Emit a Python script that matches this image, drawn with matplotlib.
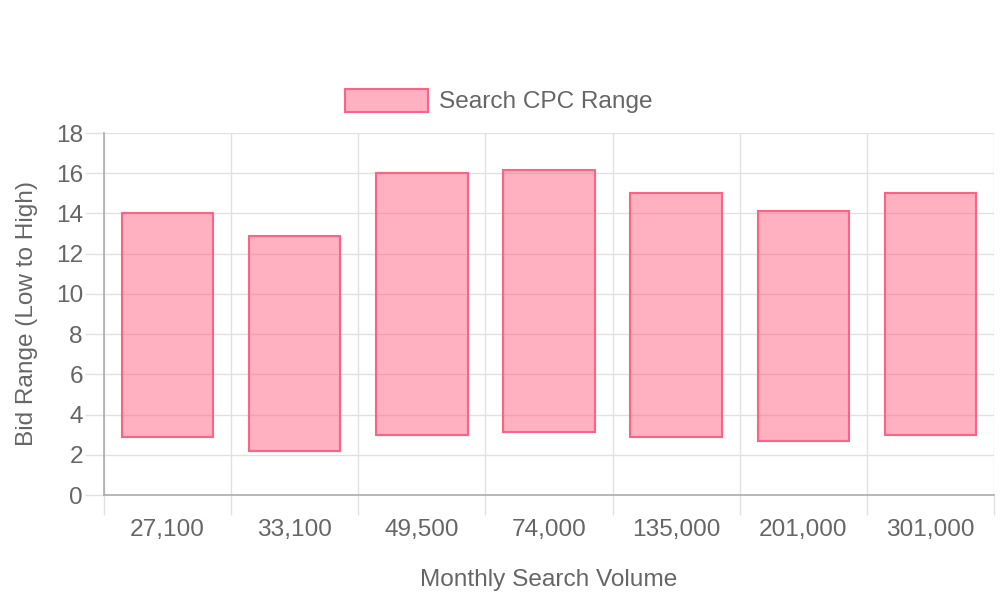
import matplotlib
matplotlib.use("Agg")
import matplotlib.pyplot as plt
import numpy as np

# monthly search volume categories and the low/high CPC bids
categories = ["27,100", "33,100", "49,500", "74,000", "135,000", "201,000", "301,000"]
bid_low = [2.9, 2.2, 3.0, 3.15, 2.9, 2.7, 3.0]
bid_high = [14.0, 12.9, 16.0, 16.15, 15.0, 14.1, 15.0]

plt.rcParams["font.family"] = ["Liberation Sans", "DejaVu Sans"]
txt = "#666666"
grid_c = "#e1e1e1"
axis_c = "#ababab"
fill = (1, 99 / 255, 132 / 255, 0.5)
edge = (1, 99 / 255, 132 / 255, 1)
fs = 17.6

fig = plt.figure(figsize=(10, 6), dpi=100)
W, H = 1000, 600
ax = fig.add_axes([104 / W, (H - 495) / H, (994 - 104) / W, (495 - 133) / H])

x = np.arange(len(categories))
heights = np.array(bid_high) - np.array(bid_low)
ax.bar(x, heights, bottom=bid_low, width=0.72, color=fill, edgecolor=edge,
       linewidth=1.5, label="Search CPC Range", zorder=3)

ax.set_xlim(-0.5, len(categories) - 0.5)
ax.set_ylim(0, 18)
ax.set_yticks(np.arange(0, 19, 2))
ax.set_xticks(x)
ax.set_xticklabels(categories)
ax.set_xticks(np.arange(-0.5, len(categories), 1), minor=True)

ax.grid(True, which="minor", axis="x", color=grid_c, linewidth=1, zorder=0)
ax.grid(True, which="major", axis="y", color=grid_c, linewidth=1, zorder=0)

ax.tick_params(axis="x", which="major", length=0, pad=17.5, labelsize=fs, labelcolor=txt)
ax.tick_params(axis="x", which="minor", length=14.4, width=1, color=grid_c)
ax.tick_params(axis="y", length=13.7, width=1, color=grid_c, pad=1.5, labelsize=fs, labelcolor=txt)

for s in ["top", "right"]:
    ax.spines[s].set_visible(False)
for s in ["left", "bottom"]:
    ax.spines[s].set_color(axis_c)
    ax.spines[s].set_linewidth(1.2)
    ax.spines[s].set_zorder(4)

ax.set_xlabel("Monthly Search Volume", fontsize=fs, color=txt, labelpad=20)
ax.set_ylabel("Bid Range (Low to High)", fontsize=fs, color=txt, labelpad=13)

fig.legend(loc="center", bbox_to_anchor=(499 / W, (H - 101) / H), frameon=False,
           fontsize=fs, labelcolor=txt, handlelength=3.37, handleheight=1.07,
           handletextpad=0.47)

fig.savefig("out.png", dpi=100)
